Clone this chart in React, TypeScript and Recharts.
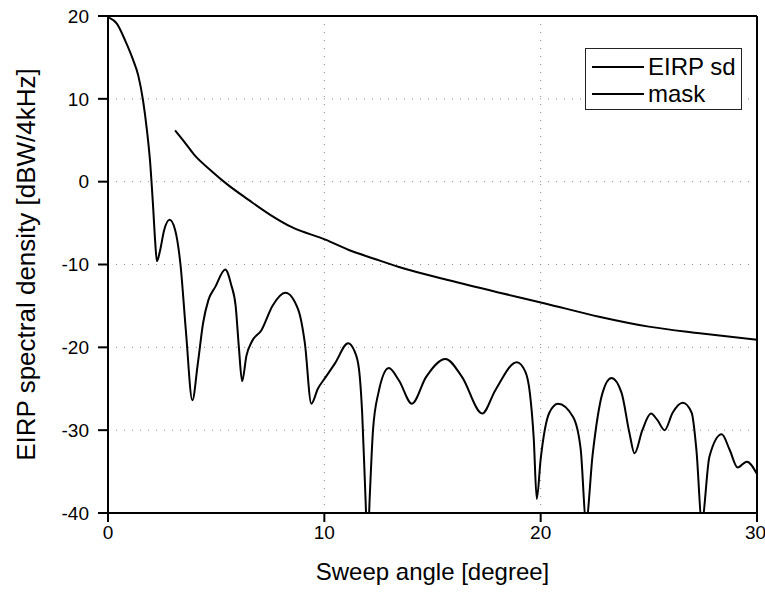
import React from "react";
import {
  LineChart, Line, XAxis, YAxis, CartesianGrid, ReferenceLine, Legend,
} from "recharts";

// EIRP spectral density vs sweep angle
const eirpX = [
  0.05, 0.4, 0.8, 1.16, 1.4, 1.62, 1.8, 1.94, 2.08, 2.18, 2.26, 2.4, 2.6, 2.85, 3.1, 3.35, 3.6, 3.9,
  4.15, 4.4, 4.64, 4.96, 5.42, 5.7, 5.9, 6.05, 6.2, 6.4, 6.65, 7.1, 7.6, 8.2, 8.8,
  9.1, 9.4, 9.7, 10.06, 10.5, 11.1, 11.4, 11.6, 11.75, 11.9, 12.0, 12.1, 12.25, 12.5,
  12.98, 13.45, 14.05, 14.7, 15.6, 16.37, 17.3, 17.9, 18.9, 19.3, 19.5, 19.68, 19.82,
  20.0, 20.4, 20.8, 21.5, 21.85, 22.1, 22.4, 22.86, 23.27, 23.74, 24.1, 24.34, 24.7,
  25.1, 25.4, 25.73, 26.1, 26.57, 26.98, 27.2, 27.45, 27.8, 28.37, 28.74, 29.1, 29.53, 30,
];
const eirpY = [
  19.8, 19.1, 17, 14.7, 12.8, 9.8, 6.2, 2.6, -2.8, -7.2, -9.6, -8.4, -5.8, -4.6, -5.8, -10, -18, -26.4,
  -22, -17, -14.3, -12.7, -10.6, -12.5, -15, -20, -24.1, -21, -19.3, -17.9, -15, -13.4, -15.5,
  -19.5, -26.8, -25, -23.6, -21.9, -19.5, -20.5, -22.6, -28, -38, -44, -38, -30, -25.5,
  -22.5, -24, -26.8, -23.6, -21.4, -23.6, -28, -25.2, -21.8, -23, -25.5, -31, -38.3,
  -33.5, -27.9, -26.8, -28.4, -32.3, -41, -33, -25.5, -23.7, -25.5, -30.3, -32.8, -30,
  -28, -28.8, -30, -27.9, -26.7, -27.9, -32.4, -41, -33.2, -30.5, -32.4, -34.5, -33.8, -35.3,
];

// mask
const maskX = [3.1, 3.5, 4.0, 4.78, 5.5, 6.5, 7.5, 8.5, 10.05, 11.13, 12.3, 13.45, 15.76, 18.1, 20.2, 22.7, 25.0, 27.35, 30];
const maskY = [6.2, 4.9, 3.2, 1.3, -0.3, -2.2, -4, -5.5, -7, -8.25, -9.3, -10.3, -11.9, -13.4, -14.7, -16.3, -17.5, -18.3, -19.1];

const xTicks = [0, 10, 20, 30];
const yTicks = [-40, -30, -20, -10, 0, 10, 20];

const eirp = eirpX.map((x, i) => ({ x, y: eirpY[i] }));
const mask = maskX.map((x, i) => ({ x, y: maskY[i] }));

const FONT = "'Liberation Sans', Arial, sans-serif";

function LegendBox() {
  const items = ["EIRP sd", "mask"];
  return (
    <div
      style={{
        border: "1.5px solid #222",
        background: "#fff",
        width: 157,
        height: 62,
        boxSizing: "border-box",
        paddingTop: 4,
        fontFamily: FONT,
        fontSize: 24,
        color: "#000",
      }}
    >
      {items.map((name) => (
        <div key={name} style={{ display: "flex", alignItems: "center", height: 27, lineHeight: "27px" }}>
          <svg width={56} height={10} style={{ marginLeft: 6 }}>
            <line x1={0} y1={5} x2={52} y2={5} stroke="#000" strokeWidth={2} />
          </svg>
          <span>{name}</span>
        </div>
      ))}
    </div>
  );
}

export default function App() {
  return (
    <div style={{ position: "absolute", left: 0, top: 0, background: "#fff" }}>
      <LineChart
        width={765}
        height={596}
        margin={{ top: 16, right: 8, bottom: 53, left: 18 }}
        style={{ fontFamily: FONT }}
      >
        <CartesianGrid
          stroke="#888"
          strokeDasharray="1 7"
          horizontalValues={yTicks}
          verticalValues={xTicks}
        />
        <XAxis
          type="number"
          dataKey="x"
          domain={[0, 30]}
          ticks={xTicks}
          allowDataOverflow
          height={30}
          stroke="#000"
          strokeWidth={2}
          tickSize={9}
          tickMargin={4}
          tick={{ fill: "#000", fontSize: 19 }}
          label={{ value: "Sweep angle [degree]", position: "bottom", offset: 20, fill: "#000", fontSize: 24 }}
        />
        <YAxis
          type="number"
          dataKey="y"
          domain={[-40, 20]}
          ticks={yTicks}
          allowDataOverflow
          width={90}
          stroke="#000"
          strokeWidth={2}
          tickSize={10}
          tickMargin={9}
          tick={{ fill: "#000", fontSize: 19 }}
          label={{ value: "EIRP spectral density [dBW/4kHz]", angle: -90, position: "insideLeft", offset: 8, fill: "#000", fontSize: 26, style: { textAnchor: "middle" } }}
        />
        <ReferenceLine y={20} stroke="#000" strokeWidth={2} />
        <ReferenceLine x={30} stroke="#000" strokeWidth={2} />
        <Line
          data={eirp}
          dataKey="y"
          name="EIRP sd"
          type="monotone"
          stroke="#000"
          strokeWidth={2}
          dot={false}
          isAnimationActive={false}
        />
        <Line
          data={mask}
          dataKey="y"
          name="mask"
          type="monotone"
          stroke="#000"
          strokeWidth={2}
          dot={false}
          isAnimationActive={false}
        />
        <Legend
          layout="vertical"
          align="center"
          verticalAlign="middle"
          content={() => <LegendBox />}
          wrapperStyle={{ position: "absolute", left: 585, top: 48, width: 160, height: 62 }}
        />
      </LineChart>
    </div>
  );
}
